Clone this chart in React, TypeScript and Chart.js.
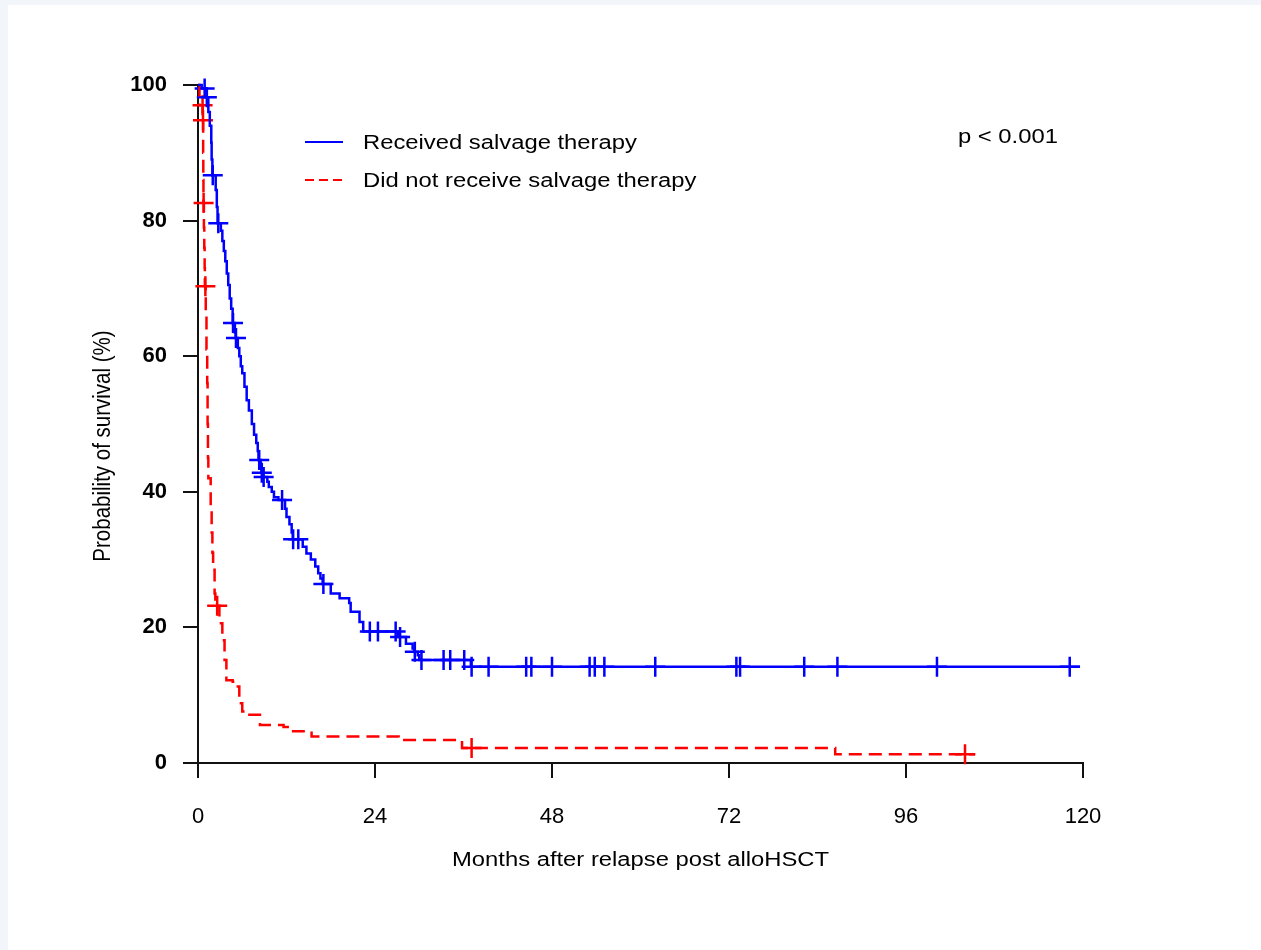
import React, { useEffect, useRef } from "react";
import { Chart, registerables } from "chart.js";

Chart.register(...registerables);

// Kaplan–Meier step points (months after relapse, survival %)
const salvageTimes = [
  0, 0.5, 1.1, 1.4, 1.6, 1.8, 1.85, 1.95, 2.4, 2.55, 2.65, 3.1, 3.3, 3.5, 3.7, 3.9,
  4.1, 4.3, 4.5, 4.7, 5.0, 5.1, 5.4, 5.6, 5.8, 6.0, 6.3, 6.6, 6.9, 7.3, 7.6, 7.9,
  8.1, 8.2, 8.5, 8.6, 8.8, 9.4, 9.6, 10.0, 10.3, 10.9, 11.8, 12.0, 12.4, 12.7, 12.85,
  14.2, 14.7, 15.3, 15.9, 16.3, 16.6, 16.9, 18.0, 19.2, 20.5, 20.7, 21.9, 22.4, 27.1,
  28.2, 29.1, 29.3, 29.8, 30.0, 37.0, 119.6,
];
const salvageSurvival = [
  100, 99.5, 98.2, 96, 94, 91.5, 89, 86.7, 84.5, 82, 79.6, 78.5, 77, 75.5, 74, 72.2,
  70.5, 68.5, 67, 64.9, 63.5, 62.7, 61.2, 60, 58.5, 57.5, 55.5, 53.5, 52, 50, 48.4, 47.2,
  46, 44.7, 43.5, 42.8, 42.2, 41.5, 40.7, 40.0, 39.2, 38.8, 37.5, 36.3, 35.2, 34.0, 33.0,
  31.9, 30.9, 30.0, 29.0, 28.0, 27.2, 26.4, 25.0, 24.3, 23.6, 22.3, 20.8, 19.4, 18.6,
  17.6, 16.9, 16.4, 15.9, 15.2, 14.2, 14.2,
];
const salvageCensorTimes = [
  0.9, 1.2, 2.0, 2.75, 4.75, 5.15, 8.3, 8.65, 8.9, 11.4, 12.9, 13.6, 17.0, 23.3, 24.4,
  26.8, 27.4, 29.4, 30.3, 33.3, 34.2, 36.1, 37.1, 39.4, 44.5, 45.2, 48.0, 53.1, 53.8,
  55.1, 62.0, 73.0, 73.5, 82.2, 86.7, 100.2, 118.2,
];

const noSalvageTimes = [
  0, 0.2, 0.64, 0.7, 0.72, 0.74, 0.8, 0.85, 0.9, 0.93, 1.05, 1.15, 1.25, 1.3, 1.35, 1.4,
  1.72, 1.85, 1.95, 2.05, 2.25, 2.35, 2.9, 3.3, 3.6, 3.85, 4.7, 5.4, 5.6, 6.0, 6.5, 8.4,
  11.6, 12.7, 15.4, 27.2, 35.8, 86.4, 105.4,
];
const noSalvageSurvival = [
  100, 97, 94.8, 90, 86, 82.6, 79, 76, 73, 70.3, 66, 61, 56, 50, 45, 42,
  38, 34, 31, 28.5, 25, 23.2, 20.6, 18.1, 15.2, 12.2, 12.0, 11.3, 8.8, 7.6, 7.1, 5.6,
  5.3, 4.7, 3.9, 3.4, 2.2, 1.3, 1.3,
];
const noSalvageCensorTimes = [0.62, 0.68, 0.76, 1.0, 2.6, 37.1, 104.0];

const xTickValues = [0, 24, 48, 72, 96, 120];
const yTickValues = [0, 20, 40, 60, 80, 100];

const seriesNames = ["Received salvage therapy", "Did not receive salvage therapy"];
const pValueLabel = "p < 0.001";
const xAxisTitle = "Months after relapse post alloHSCT";
const yAxisTitle = "Probability of survival (%)";

const BLUE = "#0000ff";
const RED = "#ff0000";
const INK = "#000000";
const TEXT_FONT = "'Liberation Sans', Arial, Helvetica, sans-serif";

const CANVAS_W = 1253;
const CANVAS_H = 945;

function stepPoints(times: number[], surv: number[]) {
  return times.map((t, i) => ({ x: t, y: surv[i] }));
}

// Survival of the step curve at time t (value of the last step at or before t)
function survivalAt(times: number[], surv: number[], t: number) {
  let v = surv[0];
  for (let i = 0; i < times.length; i++) {
    if (times[i] <= t) v = surv[i];
    else break;
  }
  return v;
}

function censorPoints(times: number[], surv: number[], censor: number[]) {
  return censor.map((t) => ({ x: t, y: survivalAt(times, surv, t) }));
}

// Text drawn slightly wide, like the exported figure's lettering
function wideText(ctx: CanvasRenderingContext2D, text: string, x: number, y: number, stretch: number) {
  ctx.save();
  ctx.translate(x, y);
  ctx.scale(stretch, 1);
  ctx.fillText(text, 0, 0);
  ctx.restore();
}

// Draws the in-plot key, the p-value and the axis titles
const annotationPlugin = {
  id: "kmAnnotations",
  afterDraw(chart: any) {
    const { ctx, chartArea } = chart;
    const { left, top, right, bottom } = chartArea;
    const stretch = 1.19;
    ctx.save();
    ctx.font = `20px ${TEXT_FONT}`;
    ctx.fillStyle = INK;
    ctx.textBaseline = "alphabetic";
    ctx.textAlign = "left";

    const rows = [
      { y: top + 57, color: BLUE, dash: [] as number[], text: seriesNames[0] },
      { y: top + 95, color: RED, dash: [9, 5], text: seriesNames[1] },
    ];
    for (const r of rows) {
      ctx.beginPath();
      ctx.setLineDash(r.dash);
      ctx.strokeStyle = r.color;
      ctx.lineWidth = 2;
      ctx.moveTo(left + 107, r.y);
      ctx.lineTo(left + 145, r.y);
      ctx.stroke();
      ctx.setLineDash([]);
      wideText(ctx, r.text, left + 165, r.y + 7, stretch);
    }

    wideText(ctx, pValueLabel, left + 760, top + 58, stretch);

    // x-axis title, centred under the plot
    ctx.textAlign = "center";
    wideText(ctx, xAxisTitle, (left + right) / 2, bottom + 103, stretch);

    // y-axis title, rotated
    ctx.save();
    ctx.translate(left - 95, (top + bottom) / 2 + 22);
    ctx.scale(stretch, 1);
    ctx.rotate(-Math.PI / 2);
    ctx.textBaseline = "middle";
    ctx.font = `20.5px ${TEXT_FONT}`;
    ctx.fillText(yAxisTitle, 0, 0);
    ctx.restore();

    ctx.restore();
  },
};

export default function App() {
  const canvasRef = useRef<HTMLCanvasElement | null>(null);

  useEffect(() => {
    const canvas = canvasRef.current;
    if (!canvas) return;

    const axisGrid = {
      display: true,
      drawOnChartArea: false,
      drawTicks: true,
      tickLength: 15,
      color: "#111111",
      lineWidth: 2,
    };
    const axisBorder = { display: true, color: "#111111", width: 2 };

    const chart = new Chart(canvas, {
      type: "line",
      data: {
        datasets: [
          {
            label: seriesNames[0],
            data: stepPoints(salvageTimes, salvageSurvival),
            borderColor: BLUE,
            borderWidth: 2.5,
            stepped: "before",
            pointRadius: 0,
            fill: false,
            clip: false,
          },
          {
            label: seriesNames[1],
            data: stepPoints(noSalvageTimes, noSalvageSurvival),
            borderColor: RED,
            borderWidth: 2.5,
            borderDash: [13, 7],
            stepped: "before",
            pointRadius: 0,
            fill: false,
            clip: false,
          },
          {
            label: seriesNames[0] + " (censored)",
            data: censorPoints(salvageTimes, salvageSurvival, salvageCensorTimes),
            showLine: false,
            pointStyle: "cross",
            pointRadius: 10,
            pointBorderWidth: 2.5,
            pointBorderColor: BLUE,
            borderColor: BLUE,
            clip: false,
          },
          {
            label: seriesNames[1] + " (censored)",
            data: censorPoints(noSalvageTimes, noSalvageSurvival, noSalvageCensorTimes),
            showLine: false,
            pointStyle: "cross",
            pointRadius: 10,
            pointBorderWidth: 2.5,
            pointBorderColor: RED,
            borderColor: RED,
            clip: false,
          },
        ] as any,
      },
      options: {
        animation: false,
        responsive: false,
        events: [],
        layout: { padding: { left: 82, top: 80, right: 178, bottom: 78 } },
        plugins: {
          legend: { display: false },
          tooltip: { enabled: false },
        },
        scales: {
          x: {
            type: "linear",
            min: 0,
            max: 120,
            afterBuildTicks: (scale: any) => {
              scale.ticks = xTickValues.map((v) => ({ value: v }));
            },
            afterFit: (scale: any) => {
              scale.height = 109;
            },
            grid: axisGrid,
            border: axisBorder,
            ticks: {
              color: INK,
              font: { family: TEXT_FONT, size: 22 },
              padding: 26,
              maxRotation: 0,
              autoSkip: false,
            },
          },
          y: {
            type: "linear",
            min: 0,
            max: 100,
            afterBuildTicks: (scale: any) => {
              scale.ticks = yTickValues.map((v) => ({ value: v }));
            },
            afterFit: (scale: any) => {
              scale.width = 108;
            },
            grid: axisGrid,
            border: axisBorder,
            ticks: {
              color: INK,
              font: { family: TEXT_FONT, size: 22, weight: "bold" },
              padding: 16,
              autoSkip: false,
            },
          },
        },
      } as any,
      plugins: [annotationPlugin],
    });

    return () => chart.destroy();
  }, []);

  return (
    <div style={{ position: "fixed", inset: 0, background: "#f2f6fa", overflow: "hidden" }}>
      <canvas
        ref={canvasRef}
        width={CANVAS_W}
        height={CANVAS_H}
        style={{
          position: "absolute",
          left: 8,
          top: 5,
          width: CANVAS_W,
          height: CANVAS_H,
          display: "block",
          background: "#ffffff",
        }}
      />
    </div>
  );
}
